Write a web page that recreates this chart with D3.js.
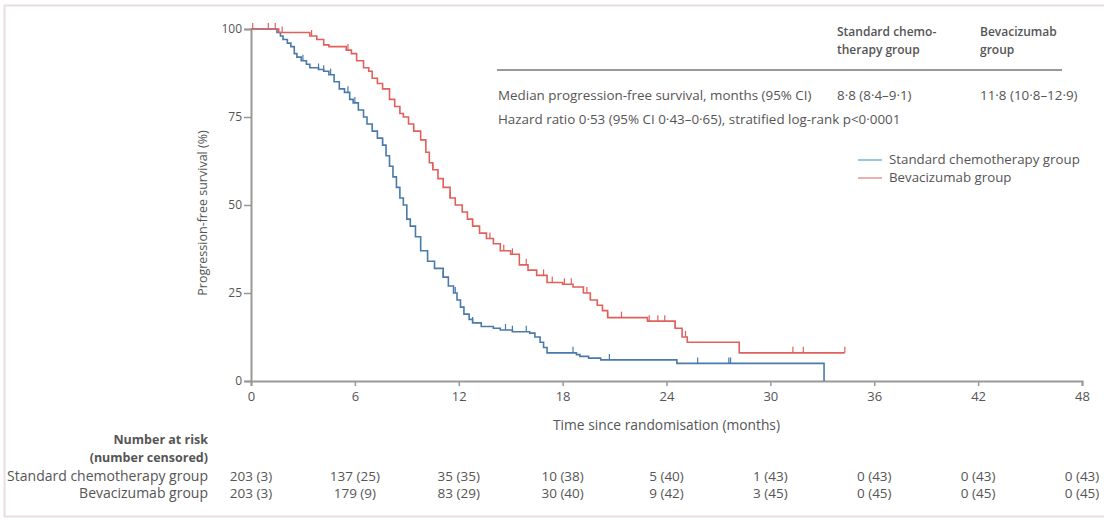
<!doctype html>
<html>
  <head>
    <meta charset="utf-8">
    <title>Progression-free survival</title>
    <script src="https://cdn.jsdelivr.net/npm/d3@7/dist/d3.min.js"></script>
    <style>
      body { margin: 0; background: #fff; }
      text { font-family: "Open Sans", sans-serif; fill: #555; }
    </style>
  </head>
  <body>
    <script>
      // time (months), survival (%)
      const stdCurve = [
        [0, 100], [1.3, 100], [1.5, 99], [1.7, 98], [1.85, 97], [2.1, 96], [2.3, 95],
        [2.5, 93], [2.65, 92], [2.9, 91], [3.2, 90], [3.4, 89], [3.9, 88.5], [4.2, 88],
        [4.5, 87], [4.8, 85], [5.1, 83], [5.4, 82], [5.7, 80], [5.9, 79], [6.2, 77],
        [6.5, 75], [6.7, 73], [7.0, 71], [7.3, 69], [7.6, 67], [7.8, 64], [8.0, 61],
        [8.2, 58], [8.4, 55], [8.6, 52], [8.8, 50], [9.0, 46], [9.2, 44], [9.5, 41],
        [9.8, 37], [10.2, 34], [10.6, 32], [11.1, 29.5], [11.4, 27], [11.7, 25],
        [11.9, 23], [12.1, 21], [12.3, 19], [12.6, 17.5], [12.8, 16.5], [13.3, 15.5],
        [14.0, 15], [14.4, 14.5], [15.1, 14], [16.1, 13.6], [16.4, 12.5], [16.7, 11],
        [16.9, 9.5], [17.1, 8], [18.8, 7.5], [19.0, 7], [19.5, 6.5], [20.2, 6],
        [24.6, 5], [33.1, 0]
      ];
      const bevCurve = [
        [0, 100], [1.3, 100], [1.6, 99], [3.4, 98], [3.8, 97], [4.2, 95.5], [4.5, 95],
        [5.5, 94], [5.8, 93], [6.1, 91], [6.5, 89], [6.8, 88], [7.0, 86], [7.3, 84.5],
        [7.6, 83], [8.0, 80], [8.3, 78], [8.6, 76], [8.8, 75], [9.1, 73], [9.4, 71],
        [9.8, 68.5], [10.1, 65], [10.3, 62], [10.5, 60], [10.8, 57.5], [11.1, 55],
        [11.5, 52], [11.8, 50], [12.2, 48], [12.5, 46], [12.8, 44], [13.2, 42],
        [13.6, 40.5], [14.0, 39], [14.4, 37], [15.0, 36], [15.5, 33], [16.0, 31.5],
        [16.5, 30], [17.1, 28], [18.0, 27.5], [18.6, 26.7], [19.2, 25], [19.6, 23],
        [20.0, 21.5], [20.3, 20], [20.6, 18], [22.9, 17], [24.5, 15], [24.9, 12.5],
        [25.2, 11], [28.2, 8], [34.3, 8]
      ];
      // censoring marks (months)
      const stdCensored = [3.0, 3.9, 4.2, 4.6, 5.6, 6.0, 7.6, 11.1, 11.8, 12.8, 14.7,
        15.1, 15.9, 18.6, 20.7, 25.8, 27.6, 27.7];
      const bevCensored = [0.1, 1.0, 1.4, 1.8, 3.5, 5.6, 10.5, 11.5, 12.8, 13.8, 14.6,
        15.1, 15.9, 16.9, 17.4, 18.1, 18.5, 19.4, 20.6, 21.4, 23.0, 23.5, 23.9, 24.5,
        25.1, 31.3, 31.9, 34.3];

      const xTicks = [0, 6, 12, 18, 24, 30, 36, 42, 48];
      const yTicks = [0, 25, 50, 75, 100];
      const groups = ['Standard chemotherapy group', 'Bevacizumab group'];
      const atRiskStd = ['203 (3)', '137 (25)', '35 (35)', '10 (38)', '5 (40)', '1 (43)', '0 (43)', '0 (43)', '0 (43)'];
      const atRiskBev = ['203 (3)', '179 (9)', '83 (29)', '30 (40)', '9 (42)', '3 (45)', '0 (45)', '0 (45)', '0 (45)'];
      const tableHead = ['Standard chemo-|therapy group', 'Bevacizumab|group'];
      const medianRow = ['Median progression-free survival, months (95% CI)', '8·8 (8·4–9·1)', '11·8 (10·8–12·9)'];
      const hazardText = 'Hazard ratio 0·53 (95% CI 0·43–0·65), stratified log-rank p<0·0001';

      const colors = ['#4a7aab', '#e0605c'];
      const legendColors = ['#9dc3df', '#e8b3aa'];

      const width = 1104;
      const height = 521;

      const svg = d3.select('body').append('svg')
          .attr('width', width)
          .attr('height', height);

      // frame
      svg.append('rect')
          .attr('x', 4.5).attr('y', 5.5)
          .attr('width', width + 10).attr('height', 511)
          .attr('fill', 'none')
          .attr('stroke', '#e9dde1')
          .attr('stroke-width', 2);

      const xScale = d3.scaleLinear().domain([0, 48]).range([251, 1082]);
      const yScale = d3.scaleLinear().domain([0, 100]).range([381, 29]);

      // axes
      const xAxis = d3.axisBottom(xScale).tickValues(xTicks).tickSize(5).tickPadding(6);
      const gx = svg.append('g')
          .attr('transform', `translate(0, ${yScale(0)})`)
          .call(xAxis);
      const yAxis = d3.axisLeft(yScale).tickValues(yTicks).tickSize(7).tickPadding(2);
      const gy = svg.append('g')
          .attr('transform', `translate(${xScale(0)}, 0)`)
          .call(yAxis);
      [gx, gy].forEach(g => {
        g.selectAll('.domain').attr('stroke', '#999').attr('stroke-width', 2);
        g.selectAll('.tick line').attr('stroke', '#999').attr('stroke-width', 1.5);
        g.selectAll('.tick text').attr('font-size', 12).attr('font-family', '"Liberation Serif", serif').attr('fill', '#555');
      });
      gx.selectAll('.tick text').attr('font-size', 13);

      // axis titles
      svg.append('text')
          .attr('transform', `translate(207, ${yScale(50) + 8}) rotate(-90)`)
          .attr('text-anchor', 'middle')
          .attr('font-size', 12.5)
          .text('Progression-free survival (%)');
      svg.append('text')
          .attr('x', (xScale(0) + xScale(48)) / 2)
          .attr('y', 430)
          .attr('text-anchor', 'middle')
          .attr('font-size', 13.8)
          .text('Time since randomisation (months)');

      // KM curves
      const line = d3.line()
          .x(d => xScale(d[0]))
          .y(d => yScale(d[1]))
          .curve(d3.curveStepAfter);
      const curves = [stdCurve, bevCurve];
      const censored = [stdCensored, bevCensored];
      const gCurves = svg.append('g').attr('fill', 'none').attr('stroke-width', 1.6);
      gCurves.selectAll('path.km')
        .data(curves)
        .enter().append('path')
          .attr('class', 'km')
          .attr('d', d => line(d))
          .attr('stroke', (d, i) => colors[i]);

      const bisect = d3.bisector(d => d[0]).right;
      const survAt = (curve, t) => curve[Math.max(0, bisect(curve, t) - 1)][1];
      curves.forEach((curve, i) => {
        gCurves.append('g').selectAll('line')
          .data(censored[i])
          .enter().append('line')
            .attr('x1', t => xScale(t)).attr('x2', t => xScale(t))
            .attr('y1', t => yScale(survAt(curve, t)))
            .attr('y2', t => yScale(survAt(curve, t)) - 6)
            .attr('stroke', colors[i])
            .attr('stroke-width', 1.2);
      });

      // summary table
      const colX = [498, 837, 980];
      tableHead.forEach((h, i) => {
        h.split('|').forEach((s, j) => {
          svg.append('text')
              .attr('x', colX[i + 1]).attr('y', 36 + j * 18)
              .attr('font-size', 12)
              .attr('font-weight', 600)
              .text(s);
        });
      });
      svg.append('line')
          .attr('x1', 497).attr('x2', 1062)
          .attr('y1', 70).attr('y2', 70)
          .attr('stroke', '#999').attr('stroke-width', 2);
      medianRow.forEach((s, i) => {
        svg.append('text')
            .attr('x', colX[i]).attr('y', 100)
            .attr('font-size', 13.4)
            .text(s);
      });
      svg.append('text')
          .attr('x', colX[0]).attr('y', 124)
          .attr('font-size', 13.4)
          .text(hazardText);

      // legend
      const legend = svg.append('g').attr('transform', 'translate(858, 160)');
      groups.forEach((g, i) => {
        legend.append('line')
            .attr('x1', 0).attr('x2', 24)
            .attr('y1', i * 18).attr('y2', i * 18)
            .attr('stroke', legendColors[i]).attr('stroke-width', 2);
        legend.append('text')
            .attr('x', 31).attr('y', i * 18 + 4)
            .attr('font-size', 13.3)
            .text(g);
      });

      // number at risk
      svg.append('text')
          .attr('x', 208).attr('y', 444)
          .attr('text-anchor', 'end').attr('font-size', 12.5).attr('font-weight', 700)
          .text('Number at risk');
      svg.append('text')
          .attr('x', 208).attr('y', 462)
          .attr('text-anchor', 'end').attr('font-size', 12.5).attr('font-weight', 700)
          .text('(number censored)');
      [atRiskStd, atRiskBev].forEach((row, i) => {
        const y = 481 + i * 17;
        svg.append('text')
            .attr('x', 208).attr('y', y)
            .attr('text-anchor', 'end').attr('font-size', 14)
            .text(groups[i]);
        svg.append('g').selectAll('text')
          .data(row)
          .enter().append('text')
            .attr('x', (d, j) => xScale(xTicks[j]))
            .attr('y', y)
            .attr('text-anchor', 'middle')
            .attr('font-size', 13.5)
            .text(d => d);
      });
    </script>
  </body>
</html>
